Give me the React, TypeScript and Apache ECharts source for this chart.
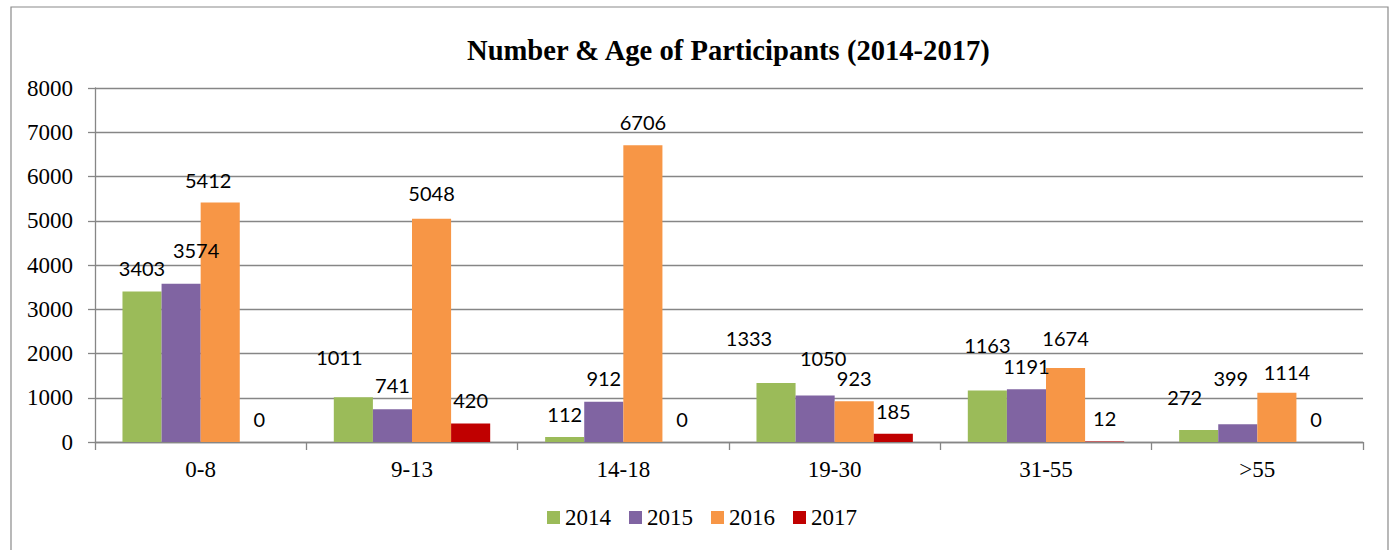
import React, { useEffect, useRef } from "react";
import * as echarts from "echarts";

const categories = ["0-8", "9-13", "14-18", "19-30", "31-55", ">55"];
const seriesNames = ["2014", "2015", "2016", "2017"];
const values2014 = [3403, 1011, 112, 1333, 1163, 272];
const values2015 = [3574, 741, 912, 1050, 1191, 399];
const values2016 = [5412, 5048, 6706, 923, 1674, 1114];
const values2017 = [0, 420, 0, 185, 12, 0];
const yTicks = { min: 0, max: 8000, interval: 1000 };

// label nudges (px) reproducing the reference's data-label placement
const nudge2014 = [[0, 0], [-14, -17], [0, 0], [-27, -22], [0, -23], [-14, -10]];
const nudge2015 = [[15, -11], [0, -1], [0, -1], [8, -15], [0, 0], [-7, -23]];
const nudge2016 = [[-12, 0], [0, -3], [0, 0], [0, 0], [0, -7], [10, 2]];
const nudge2017 = [[0, 0], [0, 0], [0, 0], [0, 0], [0, 0], [0, 0]];

const colors = ["#9BBB59", "#8064A2", "#F79646", "#C00000"];
const SERIF = "'Liberation Serif', 'Times New Roman', serif";

export default function App() {
  const ref = useRef<HTMLDivElement>(null);
  useEffect(() => {
    document.body.style.margin = "0";
    if (!ref.current) return;
    const chart = echarts.init(ref.current, undefined, { renderer: "svg" });
    const allValues = [values2014, values2015, values2016, values2017];
    const allNudges = [nudge2014, nudge2015, nudge2016, nudge2017];
    chart.setOption({
      animation: false,
      color: colors,
      title: {
        text: "Number & Age of Participants (2014-2017)",
        left: 467,
        top: 36,
        padding: 0,
        textStyle: { fontFamily: SERIF, fontWeight: "bold", fontSize: 28.6, color: "#000" },
      },
      graphic: [
        {
          type: "rect",
          shape: { x: 11, y: 7, width: 1377, height: 600 },
          style: { fill: "none", stroke: "#8a8a8a", lineWidth: 1.2 },
          silent: true,
        },
      ],
      legend: {
        data: seriesNames,
        left: 547,
        top: 506,
        padding: 0,
        itemWidth: 13,
        itemHeight: 13,
        itemGap: 18,
        itemStyle: { borderWidth: 0 },
        icon: "rect",
        textStyle: { fontFamily: SERIF, fontSize: 23, color: "#000" },
      },
      grid: { left: 95, right: 32, top: 88, bottom: 108, containLabel: false },
      xAxis: {
        type: "category",
        data: categories,
        axisLine: { show: true, lineStyle: { color: "#868686", width: 1.3 } },
        axisTick: { show: true, length: 8, interval: 0, alignWithLabel: false, lineStyle: { color: "#868686", width: 1.3 } },
        axisLabel: { fontFamily: SERIF, fontSize: 23, color: "#000", margin: 16, interval: 0 },
        splitLine: { show: false },
      },
      yAxis: {
        type: "value",
        min: yTicks.min,
        max: yTicks.max,
        interval: yTicks.interval,
        axisLine: { show: true, lineStyle: { color: "#868686", width: 1.3 } },
        axisTick: { show: true, length: 7, lineStyle: { color: "#868686", width: 1.3 } },
        axisLabel: {
          fontFamily: SERIF,
          fontSize: 23,
          color: "#000",
          margin: 22,
          formatter: (v: number) => String(v),
        },
        splitLine: { show: true, lineStyle: { color: "#868686", width: 1.3 } },
      },
      series: seriesNames.map((name, s) => ({
        name,
        type: "bar",
        barGap: "0%",
        barCategoryGap: "26%",
        data: allValues[s].map((v, i) => ({ value: v, label: { offset: allNudges[s][i] } })),
        label: {
          show: true,
          position: "top",
          distance: 13,
          fontFamily: "Lato, 'Open Sans', sans-serif",
          fontSize: 20,
          color: "#000",
        },
      })),
    });
    return () => chart.dispose();
  }, []);
  return <div ref={ref} style={{ width: 1395, height: 550 }} />;
}
